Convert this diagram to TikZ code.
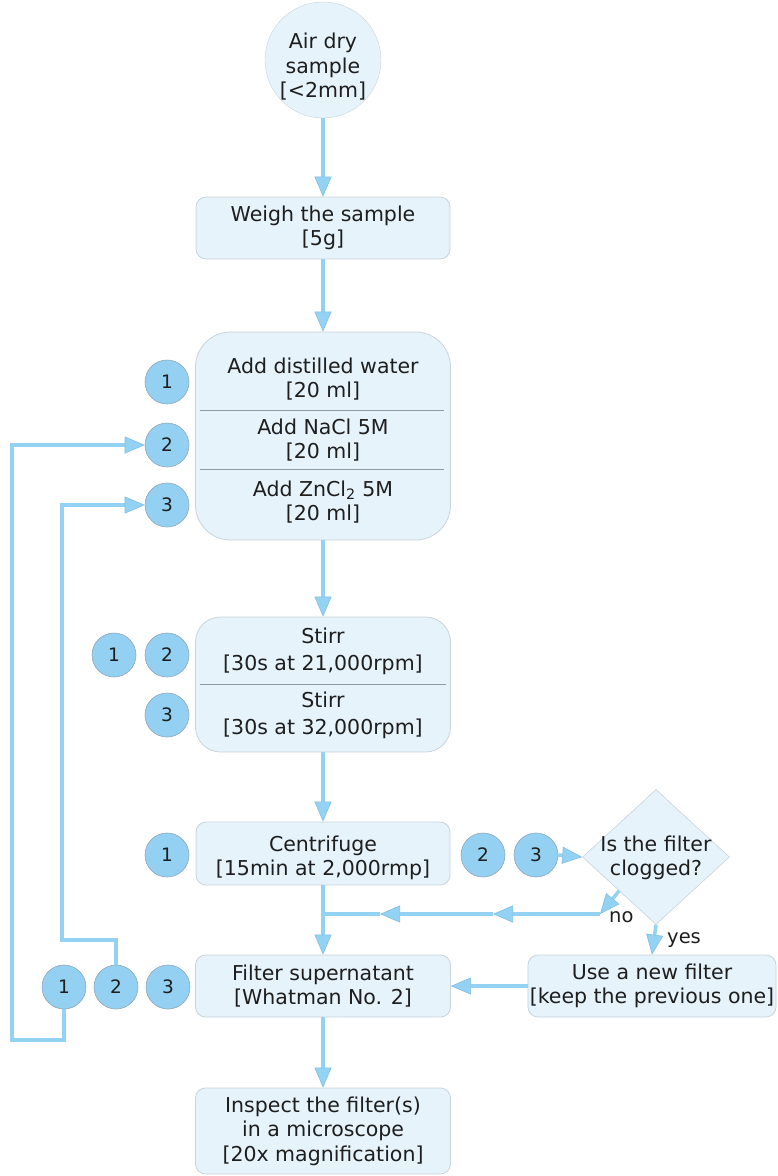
\documentclass[tikz,border=0pt]{standalone}
\usepackage{fontspec}
\setmainfont{DejaVu Sans}
\usetikzlibrary{shapes.geometric,arrows.meta}
\definecolor{boxfill}{HTML}{E6F3FB}
\definecolor{boxdraw}{HTML}{C9D3DA}
\definecolor{badgefill}{HTML}{93D0F2}
\definecolor{badgedraw}{HTML}{8FA8B8}
\definecolor{flowcol}{HTML}{94D2F4}
\definecolor{flowedge}{HTML}{7EBFE4}
\definecolor{txt}{HTML}{1E1E1E}
\definecolor{divcol}{HTML}{8C9AA3}
\tikzset{
  base/.style={font=\fontsize{20.5}{24.5}\selectfont, text=txt, align=center, inner sep=0pt},
  stepbox/.style={base, draw=boxdraw, fill=boxfill, line width=0.8pt, rounded corners=10pt},
  badge/.style={circle, draw=badgedraw, fill=badgefill, line width=0.6pt, minimum size=44pt, inner sep=0pt, font=\fontsize{18.5}{20}\selectfont, text=txt},
  flow/.style={draw=flowcol, line width=3.5pt, -{Triangle[length=20pt,width=17pt,fill=flowcol,line width=0.6pt,color=flowedge]}},
  plain/.style={draw=flowcol, line width=3.5pt},
  divider/.style={draw=divcol, line width=0.8pt},
  lbl/.style={font=\fontsize{19.5}{22}\selectfont, text=txt, inner sep=0pt}
}
\begin{document}
\begin{tikzpicture}[x=1pt,y=-1pt]
\useasboundingbox (0,0) rectangle (777,1176);

% nodes
\node[base, circle, draw=boxdraw, fill=boxfill, minimum size=116pt] (air) at (323,60) {};
\node[base] (airtext) at (323,67) {Air dry\\sample\\{[}<2mm{]}};
\node[stepbox, minimum width=254pt, minimum height=62pt] (weigh) at (323,228) {Weigh the sample\\{[}5g{]}};
\node[stepbox, rounded corners=35pt, minimum width=255pt, minimum height=208pt] (add) at (323,436) {};
\node[stepbox, rounded corners=25pt, minimum width=255pt, minimum height=135pt] (stirr) at (323,684.5) {};
\node[stepbox, minimum width=254pt, minimum height=63pt] (centri) at (323,853.5) {};
\node[base] (centritext) at (323,858) {Centrifuge\\{[}15min at 2,000rmp{]}};
\node[stepbox, minimum width=255pt, minimum height=62pt] (filter) at (323,986) {Filter supernatant\\{[}Whatman No. 2{]}};
\node[stepbox, minimum width=248pt, minimum height=62pt] (use) at (652,986) {Use a new filter\\{[}keep the previous one{]}};
\node[stepbox, minimum width=255pt, minimum height=86pt] (inspect) at (323,1131) {Inspect the filter(s)\\in a microscope\\{[}20x magnification{]}};
\node[base, diamond, draw=boxdraw, fill=boxfill, line width=0.6pt, minimum width=147pt, minimum height=135pt, aspect=1.09] (dia) at (656,857) {};
\node[base] (diatext) at (656,858) {Is the filter\\clogged?};

% section texts
\node[base] (add1) at (323,379) {Add distilled water\\{[}20 ml{]}};
\node[base] (add2) at (323,440) {Add NaCl 5M\\{[}20 ml{]}};
\node[base] (add3) at (323,502) {Add ZnCl\textsubscript{2} 5M\\{[}20 ml{]}};
\coordinate (d1l) at (200,410); \coordinate (d1r) at (444,410);
\coordinate (d2l) at (200,469); \coordinate (d2r) at (444,469);
\draw[divider] (d1l) -- (d1r);
\draw[divider] (d2l) -- (d2r);
\node[base, font=\fontsize{20.5}{27}\selectfont] (st1) at (323,651) {Stirr\\{[}30s at 21,000rpm{]}};
\node[base, font=\fontsize{20.5}{27}\selectfont] (st2) at (323,715) {Stirr\\{[}30s at 32,000rpm{]}};
\coordinate (d3l) at (200,684); \coordinate (d3r) at (446,684);
\draw[divider] (d3l) -- (d3r);

% badges
\node[badge] (a1) at (167,382) {1};
\node[badge] (a2) at (167,445) {2};
\node[badge] (a3) at (167,505) {3};
\node[badge] (s1) at (114,655) {1};
\node[badge] (s2) at (167,655) {2};
\node[badge] (s3) at (167,715) {3};
\node[badge] (c1) at (167,855) {1};
\node[badge] (c2) at (483,855) {2};
\node[badge] (c3) at (536,855) {3};
\node[badge] (f1) at (64,987) {1};
\node[badge] (f2) at (116,987) {2};
\node[badge] (f3) at (168,987) {3};

% main flow
\draw[flow] (air.south) -- (weigh.north);
\draw[flow] (weigh.south) -- (add.north);
\draw[flow] (add.south) -- (stirr.north);
\draw[flow] (stirr.south) -- (centri.north);
\draw[flow] (centri.south) -- (filter.north);
\draw[flow] (filter.south) -- (inspect.north);

% decision
\draw[flow] (c3.east) -- (dia.west);
\coordinate (nocorner) at (600,914);
\coordinate (nom1) at (493,914);
\coordinate (nom2) at (380,914);
\coordinate (nojoin) at (323,914);
\draw[flow] (dia.south west) -- (nocorner);
\draw[flow] (nocorner) -- (nom1);
\draw[flow] (nom1) -- (nom2);
\draw[plain] (nom2) -- (nojoin);
\node[lbl, anchor=west] (nolbl) at (609,917) {no};
\draw[flow] (dia.south) -- (use.north);
\node[lbl, anchor=west] (yeslbl) at (667,940) {yes};
\draw[flow] (use.west) -- (filter.east);

% loops
\coordinate (l1a) at (64,1040);
\coordinate (l1b) at (12,1040);
\coordinate (l1c) at (12,445);
\draw[flow] (f1.south) -- (l1a) -- (l1b) -- (l1c) -- (a2.west);
\coordinate (l2a) at (116,940);
\coordinate (l2b) at (62,940);
\coordinate (l2c) at (62,505);
\draw[flow] (f2.north) -- (l2a) -- (l2b) -- (l2c) -- (a3.west);
\end{tikzpicture}
\end{document}
